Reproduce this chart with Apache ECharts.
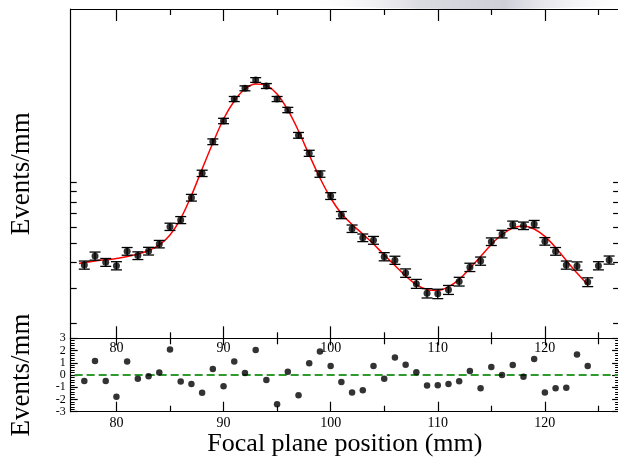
<!DOCTYPE html>
<html>
<head>
<meta charset="utf-8">
<script src="https://cdn.jsdelivr.net/npm/echarts@6/dist/echarts.min.js"></script>
<style>
html,body{margin:0;padding:0;background:#fff;}
#chart{width:618px;height:463px;}
</style>
</head>
<body>
<div id="chart"></div>
<script>
// ---- data ----
const positions = [77,78,79,80,81,82,83,84,85,86,87,88,89,90,91,92,93,94,95,96,97,98,99,100,101,102,103,104,105,106,107,108,109,110,111,112,113,114,115,116,117,118,119,120,121,122,123,124,125,126];
const events = [38.9,43.1,40.1,38.6,45.5,43.3,45.6,49.4,60.2,65.0,83.9,110.8,158.9,201.4,258.8,292.4,321.5,300.2,258.8,228.3,171.0,139.3,109.9,85.5,68.8,58.9,53.1,51.6,42.8,41.1,35.5,31.4,28.2,28.0,29.3,32.2,37.9,40.7,50.8,55.4,61.6,60.9,62.1,51.0,45.5,38.9,38.5,32.0,38.6,41.2];
const errors = [1.8,2.0,1.8,1.8,2.0,1.9,2.0,2.1,2.5,2.6,3.2,4.0,5.2,6.2,7.5,8.2,8.7,8.4,7.5,6.9,5.6,4.8,4.0,3.3,2.8,2.5,2.3,2.3,2.0,1.9,1.7,1.6,1.5,1.5,1.5,1.6,1.8,1.9,2.2,2.4,2.6,2.6,2.6,2.2,2.0,1.8,1.8,1.6,1.8,1.9];
const fitX = [76.5,77,78,79,80,81,82,83,84,85,86,87,88,89,90,91,92,93,94,95,96,97,98,99,100,101,102,103,104,105,106,107,108,109,110,111,112,113,114,115,116,117,118,119,120,121,122,123,124];
const fitY = [39.6,40.0,40.7,41.3,41.9,42.9,44.1,45.9,48.9,54.8,66.1,86.0,116.4,156.6,205.9,253.0,290.1,307.2,301.9,274.0,228.3,179.6,136.6,105.0,83.6,70.0,61.8,55.4,49.4,43.6,38.7,34.3,31.1,29.4,29.1,30.3,33.0,37.4,42.9,49.2,55.1,59.3,60.7,58.7,53.9,47.5,41.0,35.5,31.1];
const residX = [77,78,79,80,81,82,83,84,85,86,87,88,89,90,91,92,93,94,95,96,97,98,99,100,101,102,103,104,105,106,107,108,109,110,111,112,113,114,115,116,117,118,119,120,121,122,123,124];
const residuals = [-0.49,1.14,-0.5,-1.78,1.1,-0.3,-0.1,0.2,2.08,-0.54,-0.73,-1.46,0.49,-0.92,1.11,0.16,2.05,-0.4,-2.4,0.27,-1.65,0.97,1.92,0.73,-0.57,-1.43,-1.24,0.73,-0.3,1.43,0.84,0.22,-0.86,-0.84,-0.73,-0.51,0.32,-1.08,0.65,0.0,0.81,-0.14,1.3,-1.43,-1.08,-1.05,1.68,0.73];
const zeroLineX = [76.1, 127];
const zeroLineY = [0, 0];
const xMajorTicks = [80,90,100,110,120];
const xMinorTicks = [85,95,105,115,125];
const yLogTicks = [20,30,40,50,60,70,80,90,100];

const X_MIN = 75.73, X_MAX = 126.93;
const Y_MIN = 16.85, Y_MAX = 723;
const SERIF = "'Liberation Serif','Times New Roman','DejaVu Serif',serif";

const chart = echarts.init(document.getElementById('chart'), null, {renderer:'canvas'});

function xAx(grid, pos, ticks, len, opts) {
  return Object.assign({
    type:'value', gridIndex:grid, position:pos, min:X_MIN, max:X_MAX,
    axisLine:{show:true, onZero:false, lineStyle:{color:'#000', width:1.2}},
    axisTick:{show:true, inside:true, length:len, customValues:ticks, lineStyle:{color:'#000', width:1.2}},
    axisLabel:{show:false},
    splitLine:{show:false}
  }, opts || {});
}

const option = {
  animation:false,
  backgroundColor:'#fff',
  grid:[
    {left:70.7, top:9, width:548.4, height:329.3, containLabel:false, outerBoundsMode:'none'},
    {left:70.7, top:338.3, width:548.4, height:73.4, containLabel:false, outerBoundsMode:'none'}
  ],
  graphic:[
    {type:'ellipse', z:-10, shape:{cx:470, cy:2, rx:170, ry:7},
     style:{opacity:0.8, fill:{type:'linear', x:0, y:0, x2:1, y2:0, colorStops:[
       {offset:0,color:'rgba(255,255,255,0)'},{offset:0.35,color:'rgba(190,190,202,0.7)'},
       {offset:0.6,color:'rgba(180,180,195,0.8)'},{offset:1,color:'rgba(255,255,255,0)'}]}}}
  ],
  xAxis:[
    xAx(0,'bottom',xMajorTicks,12),
    xAx(0,'top',xMajorTicks,12),
    xAx(0,'bottom',xMinorTicks,6,{axisLine:{show:false, onZero:false}}),
    xAx(0,'top',xMinorTicks,6,{axisLine:{show:false, onZero:false}}),
    xAx(1,'bottom',xMajorTicks,10,{
      axisLabel:{show:true, customValues:xMajorTicks, color:'#000', fontFamily:SERIF, fontSize:14, margin:5},
      name:'Focal plane position (mm)', nameLocation:'middle', nameGap:16,
      nameTextStyle:{color:'#000', fontFamily:SERIF, fontSize:26, verticalAlign:'top'}
    }),
    xAx(1,'top',xMajorTicks,7,{
      axisLabel:{show:true, inside:true, customValues:xMajorTicks, color:'#000', fontFamily:SERIF, fontSize:14, margin:3}
    }),
    xAx(1,'bottom',xMinorTicks,6,{axisLine:{show:false, onZero:false}}),
    xAx(1,'top',xMinorTicks,6,{axisLine:{show:false, onZero:false}})
  ],
  yAxis:[
    {type:'log', logBase:10, gridIndex:0, position:'left', min:Y_MIN, max:Y_MAX,
     axisLine:{show:true, lineStyle:{color:'#000', width:1.2}},
     axisTick:{show:true, inside:true, length:6, customValues:yLogTicks, lineStyle:{color:'#000', width:1.2}},
     axisLabel:{show:false}, splitLine:{show:false}, minorTick:{show:false},
     name:'Events/mm', nameLocation:'middle', nameGap:35,
     nameTextStyle:{color:'#000', fontFamily:SERIF, fontSize:27}},
    {type:'log', logBase:10, gridIndex:0, position:'right', min:Y_MIN, max:Y_MAX,
     axisLine:{show:true, lineStyle:{color:'#000', width:1.2}},
     axisTick:{show:true, inside:true, length:6, customValues:yLogTicks, lineStyle:{color:'#000', width:1.2}},
     axisLabel:{show:false}, splitLine:{show:false}},
    {type:'value', gridIndex:1, position:'left', min:-3, max:3, interval:1,
     axisLine:{show:true, onZero:false, lineStyle:{color:'#000', width:1.2}},
     axisTick:{show:true, inside:true, length:7, lineStyle:{color:'#000', width:1.2}},
     minorTick:{show:true, splitNumber:5, length:4, lineStyle:{color:'#000', width:1}},
     axisLabel:{show:true, color:'#000', fontFamily:SERIF, fontSize:12, margin:5},
     splitLine:{show:false},
     name:'Events/mm', nameLocation:'middle', nameGap:35,
     nameTextStyle:{color:'#000', fontFamily:SERIF, fontSize:27}},
    {type:'value', gridIndex:1, position:'right', min:-3, max:3, interval:1,
     axisLine:{show:true, onZero:false, lineStyle:{color:'#000', width:1.2}},
     axisTick:{show:true, inside:true, length:7, lineStyle:{color:'#000', width:1.2}},
     minorTick:{show:true, splitNumber:5, length:4, lineStyle:{color:'#000', width:1}},
     axisLabel:{show:false}, splitLine:{show:false}}
  ],
  series:[
    {type:'line', xAxisIndex:0, yAxisIndex:0, data:fitX.map((x,i)=>[x,fitY[i]]),
     showSymbol:false, smooth:0.3, lineStyle:{color:'#ff0000', width:1.5}, z:3},
    {type:'custom', xAxisIndex:0, yAxisIndex:0, z:4,
     data:positions.map((x,i)=>[x, events[i]-errors[i], events[i]+errors[i]]),
     encode:{x:0, y:[1,2]},
     renderItem:function(params, api){
       const x = api.value(0);
       const lo = api.coord([x, api.value(1)]);
       const hi = api.coord([x, api.value(2)]);
       const hw = 5.5;
       const st = {stroke:'#000', lineWidth:1.3};
       return {type:'group', children:[
         {type:'line', shape:{x1:lo[0], y1:lo[1], x2:hi[0], y2:hi[1]}, style:st},
         {type:'line', shape:{x1:lo[0]-hw, y1:lo[1], x2:lo[0]+hw, y2:lo[1]}, style:st},
         {type:'line', shape:{x1:hi[0]-hw, y1:hi[1], x2:hi[0]+hw, y2:hi[1]}, style:st}
       ]};
     }},
    {type:'scatter', xAxisIndex:0, yAxisIndex:0, data:positions.map((x,i)=>[x,events[i]]),
     symbol:'circle', symbolSize:7, itemStyle:{color:'#000'}, z:5},
    {type:'line', xAxisIndex:4, yAxisIndex:2, data:zeroLineX.map((x,i)=>[x,zeroLineY[i]]),
     showSymbol:false, lineStyle:{color:'#2e9a2e', width:2, type:[8,4]}, z:2},
    {type:'scatter', xAxisIndex:4, yAxisIndex:2, data:residX.map((x,i)=>[x,residuals[i]]),
     symbol:'circle', symbolSize:6.5, itemStyle:{color:'#000'}, z:5}
  ]
};
chart.setOption(option);
</script>
</body>
</html>
